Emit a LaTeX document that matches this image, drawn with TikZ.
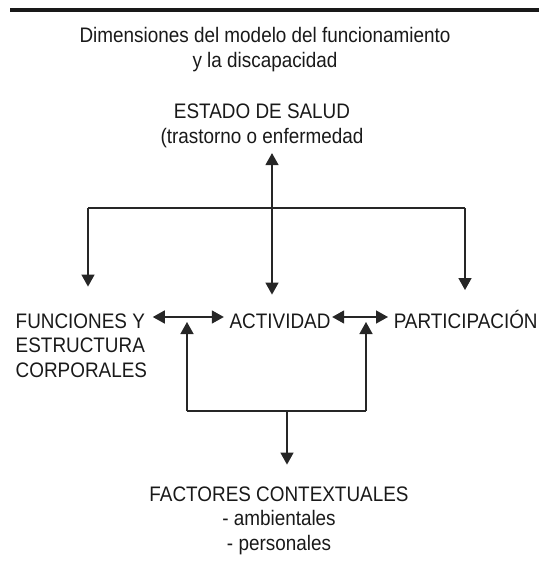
\documentclass[tikz,border=0pt]{standalone}
\usepackage{fontspec}
\setmainfont{Liberation Sans}[FakeStretch=0.9]
\usetikzlibrary{positioning,arrows.meta}

\begin{document}
\begin{tikzpicture}[x=1pt,y=-1pt,line width=1.5pt,
    lbl/.style={inner sep=0pt,font=\fontsize{21}{24.5}\selectfont,text=black!90,align=center},
    flecha/.style={draw=black!85,-{Triangle[length=12pt,width=13pt]}},
    doble/.style={draw=black!85,{Triangle[length=12pt,width=13pt]}-{Triangle[length=12pt,width=13pt]}}]
    \useasboundingbox (0,0) rectangle (539,562);
    \draw[line width=4pt,black!90] (10,10) -- (539,10);

    % anchor=base is the baseline of the last line
    \node[lbl,anchor=base]            (titulo)        at (265,67)  {Dimensiones del modelo del funcionamiento\\y la discapacidad};
    \node[lbl,anchor=base]            (salud)         at (262,143) {ESTADO DE SALUD\\(trastorno o enfermedad};
    \node[lbl,anchor=base west,align=left] (funciones) at (15,377) {FUNCIONES Y\\ESTRUCTURA\\CORPORALES};
    \node[lbl,anchor=base]            (actividad)     at (280,328) {ACTIVIDAD};
    \node[lbl,anchor=base west]       (participacion) at (393,328) {PARTICIPACIÓN};
    \node[lbl,anchor=base]            (factores)      at (279,550) {FACTORES CONTEXTUALES\\- ambientales\\- personales};

    \coordinate (centro) at (272,208);
    \coordinate (hizq)   at (88,208);
    \coordinate (hder)   at (465,208);
    \coordinate (fila)   at (0,317);
    \coordinate (bizq)   at (187,411);
    \coordinate (bder)   at (366,411);
    \coordinate (bmed)   at (287,411);

    % estado de salud
    \draw[black!85] (hizq) -- (hder);
    \draw[flecha,shorten >=5pt]  (centro) -- (centro |- salud.south);
    \draw[flecha,shorten >=18pt] (centro) -- (centro |- actividad.north);
    \draw[flecha,shorten >=26pt] (hizq) -- (hizq |- funciones.north);
    \draw[flecha,shorten >=19pt] (hder) -- (hder |- participacion.north);

    % fila central
    \draw[doble,shorten <=5pt,shorten >=5pt] (funciones.east |- fila) -- (actividad.west |- fila);
    \draw[doble,shorten <=1pt,shorten >=5pt] (actividad.east |- fila) -- (participacion.west |- fila);

    % factores contextuales
    \draw[black!85] (bizq) -- (bder);
    \draw[flecha,shorten >=5pt] (bizq) -- (bizq |- fila);
    \draw[flecha,shorten >=5pt] (bder) -- (bder |- fila);
    \draw[flecha,shorten >=21pt] (bmed) -- (bmed |- factores.north);
\end{tikzpicture}
\end{document}
